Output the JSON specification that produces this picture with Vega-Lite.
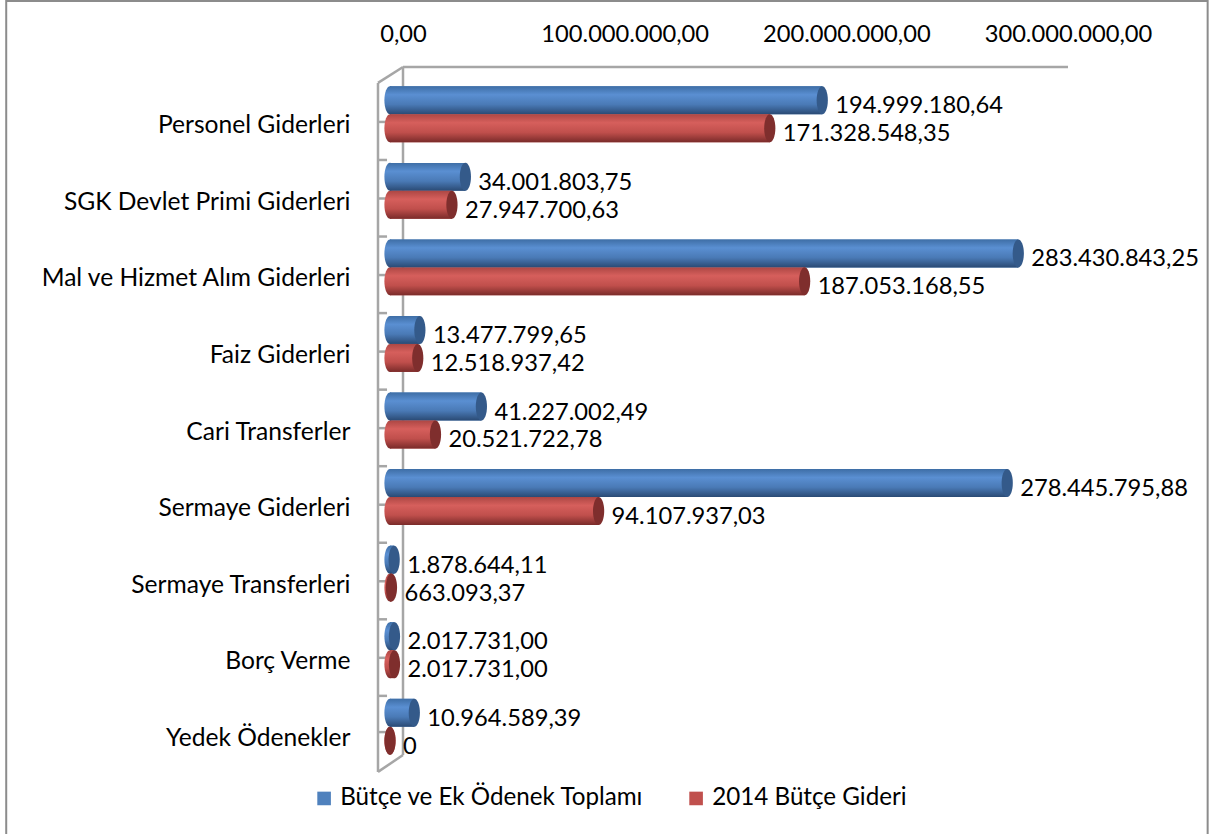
{
"$schema":"https://vega.github.io/schema/vega-lite/v6.json",
"width":665,"height":689,
"autosize":{"type":"none"},
"padding":{"left":403,"top":76,"right":142,"bottom":69},
"background":"white",
"config":{"view":{"stroke":null},"font":"Lato","locale":{"number":{"decimal":",","thousands":".","grouping":[3],"currency":["",""]}}},
"datasets":{
"rows":[
{"cat":"Personel Giderleri","series":"Bütçe ve Ek Ödenek Toplamı","value":194999180.64,"label":"194.999.180,64"},
{"cat":"Personel Giderleri","series":"2014 Bütçe Gideri","value":171328548.35,"label":"171.328.548,35"},
{"cat":"SGK Devlet Primi Giderleri","series":"Bütçe ve Ek Ödenek Toplamı","value":34001803.75,"label":"34.001.803,75"},
{"cat":"SGK Devlet Primi Giderleri","series":"2014 Bütçe Gideri","value":27947700.63,"label":"27.947.700,63"},
{"cat":"Mal ve Hizmet Alım Giderleri","series":"Bütçe ve Ek Ödenek Toplamı","value":283430843.25,"label":"283.430.843,25"},
{"cat":"Mal ve Hizmet Alım Giderleri","series":"2014 Bütçe Gideri","value":187053168.55,"label":"187.053.168,55"},
{"cat":"Faiz Giderleri","series":"Bütçe ve Ek Ödenek Toplamı","value":13477799.65,"label":"13.477.799,65"},
{"cat":"Faiz Giderleri","series":"2014 Bütçe Gideri","value":12518937.42,"label":"12.518.937,42"},
{"cat":"Cari Transferler","series":"Bütçe ve Ek Ödenek Toplamı","value":41227002.49,"label":"41.227.002,49"},
{"cat":"Cari Transferler","series":"2014 Bütçe Gideri","value":20521722.78,"label":"20.521.722,78"},
{"cat":"Sermaye Giderleri","series":"Bütçe ve Ek Ödenek Toplamı","value":278445795.88,"label":"278.445.795,88"},
{"cat":"Sermaye Giderleri","series":"2014 Bütçe Gideri","value":94107937.03,"label":"94.107.937,03"},
{"cat":"Sermaye Transferleri","series":"Bütçe ve Ek Ödenek Toplamı","value":1878644.11,"label":"1.878.644,11"},
{"cat":"Sermaye Transferleri","series":"2014 Bütçe Gideri","value":663093.37,"label":"663.093,37"},
{"cat":"Borç Verme","series":"Bütçe ve Ek Ödenek Toplamı","value":2017731.00,"label":"2.017.731,00"},
{"cat":"Borç Verme","series":"2014 Bütçe Gideri","value":2017731.00,"label":"2.017.731,00"},
{"cat":"Yedek Ödenekler","series":"Bütçe ve Ek Ödenek Toplamı","value":10964589.39,"label":"10.964.589,39"},
{"cat":"Yedek Ödenekler","series":"2014 Bütçe Gideri","value":0,"label":"0"}
],
"frame":[
{"seg":"back","fx":0,"fy":-0.118},{"seg":"back","fx":0,"fy":8.87},
{"seg":"top","fx":0,"fy":-0.118},{"seg":"top","fx":300000000,"fy":-0.118},
{"seg":"front","fx":-11280000,"fy":0.09},{"seg":"front","fx":-11280000,"fy":9.09},
{"seg":"d1","fx":-11280000,"fy":0.09},{"seg":"d1","fx":0,"fy":-0.118},
{"seg":"d2","fx":-11280000,"fy":9.09},{"seg":"d2","fx":0,"fy":8.87},
{"seg":"t1","fx":-11280000,"fy":0.6},{"seg":"t1","fx":-7200000,"fy":0.6},
{"seg":"t2","fx":-11280000,"fy":1.097},{"seg":"t2","fx":-7200000,"fy":1.097},
{"seg":"t3","fx":-11280000,"fy":1.6},{"seg":"t3","fx":-7200000,"fy":1.6},
{"seg":"t4","fx":-11280000,"fy":2.097},{"seg":"t4","fx":-7200000,"fy":2.097},
{"seg":"t5","fx":-11280000,"fy":2.6},{"seg":"t5","fx":-7200000,"fy":2.6},
{"seg":"t6","fx":-11280000,"fy":3.097},{"seg":"t6","fx":-7200000,"fy":3.097},
{"seg":"t7","fx":-11280000,"fy":3.6},{"seg":"t7","fx":-7200000,"fy":3.6},
{"seg":"t8","fx":-11280000,"fy":4.097},{"seg":"t8","fx":-7200000,"fy":4.097},
{"seg":"t9","fx":-11280000,"fy":4.6},{"seg":"t9","fx":-7200000,"fy":4.6},
{"seg":"t10","fx":-11280000,"fy":5.097},{"seg":"t10","fx":-7200000,"fy":5.097},
{"seg":"t11","fx":-11280000,"fy":5.6},{"seg":"t11","fx":-7200000,"fy":5.6},
{"seg":"t12","fx":-11280000,"fy":6.097},{"seg":"t12","fx":-7200000,"fy":6.097},
{"seg":"t13","fx":-11280000,"fy":6.6},{"seg":"t13","fx":-7200000,"fy":6.6},
{"seg":"t14","fx":-11280000,"fy":7.097},{"seg":"t14","fx":-7200000,"fy":7.097},
{"seg":"t15","fx":-11280000,"fy":7.6},{"seg":"t15","fx":-7200000,"fy":7.6},
{"seg":"t16","fx":-11280000,"fy":8.097},{"seg":"t16","fx":-7200000,"fy":8.097},
{"seg":"t17","fx":-11280000,"fy":8.57},{"seg":"t17","fx":-7200000,"fy":8.57}
],
"border":[
{"seg":"b1","fx":-179000000,"fy":9.9},{"seg":"b1","fx":-179000000,"fy":-0.98},
{"seg":"b1","fx":363000000,"fy":-0.98},{"seg":"b1","fx":363000000,"fy":9.9}
]
},
"resolve":{"scale":{"y":"independent"}},
"layer":[
{"data":{"name":"border"},
 "mark":{"type":"line","stroke":"#8c8c8c","strokeWidth":2,"clip":false},
 "encoding":{"x":{"field":"fx","type":"quantitative",
   "scale":{"domain":[0,300000000],"nice":false,"zero":false},
   "axis":{"orient":"top","title":null,"grid":false,"domain":false,"ticks":false,"values":[0,100000000,200000000,300000000],"format":",.2f","labelPadding":30,"labelFontSize":23.7,"labelFont":"Lato","labelColor":"#000000","labelFlush":false,"labelOverlap":false}},
  "y":{"field":"fy","type":"quantitative","axis":null,"scale":{"domain":[0,9],"reverse":true,"nice":false,"zero":false}},
  "detail":{"field":"seg"}}},
{"data":{"name":"frame"},
 "mark":{"type":"line","stroke":"#a6a6a6","strokeWidth":2.5,"clip":false},
 "encoding":{"x":{"field":"fx","type":"quantitative"},
  "y":{"field":"fy","type":"quantitative","axis":null,"scale":{"domain":[0,9],"reverse":true,"nice":false,"zero":false}},
  "detail":{"field":"seg"}}},
{"data":{"name":"rows"},
 "encoding":{
  "y":{"field":"cat","type":"nominal","sort":null,"scale":{"paddingInner":0.27,"paddingOuter":0.135},
   "axis":{"title":null,"domain":false,"ticks":false,"labelPadding":53,"labelFontSize":24.6,"labelFont":"Lato","labelColor":"#000000","labelOffset":12,"labelLimit":400}},
  "yOffset":{"field":"series","type":"nominal","sort":["Bütçe ve Ek Ödenek Toplamı","2014 Bütçe Gideri"]},
  "x":{"field":"value","type":"quantitative","stack":null}
 },
 "layer":[
  {"mark":{"type":"bar","xOffset":-13,"x2Offset":-13,"clip":false},
   "encoding":{"x2":{"datum":0},"color":{"field":"series","type":"nominal","sort":["Bütçe ve Ek Ödenek Toplamı","2014 Bütçe Gideri"],
     "scale":{"domain":["Bütçe ve Ek Ödenek Toplamı","2014 Bütçe Gideri"],"range":["#4f81bd","#c0504d"]},
     "legend":{"title":null,"orient":"none","legendX":-91,"legendY":710,"direction":"horizontal","symbolType":"square","symbolSize":185,"symbolStrokeWidth":0,"labelFontSize":24.2,"labelFont":"Lato","labelColor":"#000000","columnPadding":40,"labelLimit":400,"labelOffset":4}}}},
  {"transform":[{"filter":"datum.series === 'Bütçe ve Ek Ödenek Toplamı'"}],
   "mark":{"type":"bar","xOffset":-13,"x2Offset":-13,"fill":{"gradient":"linear","x1":0,"y1":0,"x2":0,"y2":1,"stops":[{"offset":0,"color":"#3e6ea6"},{"offset":0.3,"color":"#5a8fd2"},{"offset":0.65,"color":"#4a7ab6"},{"offset":1,"color":"#2a4a74"}]}},
   "encoding":{"x2":{"datum":0}}},
  {"transform":[{"filter":"datum.series === '2014 Bütçe Gideri'"}],
   "mark":{"type":"bar","xOffset":-13,"x2Offset":-13,"fill":{"gradient":"linear","x1":0,"y1":0,"x2":0,"y2":1,"stops":[{"offset":0,"color":"#ad4744"},{"offset":0.3,"color":"#d65f5c"},{"offset":0.65,"color":"#c04f4c"},{"offset":1,"color":"#7a2b2a"}]}},
   "encoding":{"x2":{"datum":0}}},
  {"transform":[{"filter":"datum.series === '2014 Bütçe Gideri'"}],
   "mark":{"type":"point","filled":true,"opacity":1,"size":784,"xOffset":-13,"shape":"M0,-1 A0.4,1 0 1,1 0,1 A0.4,1 0 1,1 0,-1 Z","fill":{"gradient":"linear","x1":0,"y1":0,"x2":0,"y2":1,"stops":[{"offset":0,"color":"#ad4744"},{"offset":0.3,"color":"#d65f5c"},{"offset":0.65,"color":"#c04f4c"},{"offset":1,"color":"#7a2b2a"}]}},
   "encoding":{"x":{"datum":0}}},
  {"transform":[{"filter":"datum.series === 'Bütçe ve Ek Ödenek Toplamı'"}],
   "mark":{"type":"point","filled":true,"opacity":1,"size":784,"xOffset":-13,"shape":"M0,-1 A0.4,1 0 1,1 0,1 A0.4,1 0 1,1 0,-1 Z","fill":{"gradient":"linear","x1":0,"y1":0,"x2":0,"y2":1,"stops":[{"offset":0,"color":"#3e6ea6"},{"offset":0.3,"color":"#5a8fd2"},{"offset":0.65,"color":"#4a7ab6"},{"offset":1,"color":"#2a4a74"}]}},
   "encoding":{"x":{"datum":0}}},
  {"transform":[{"filter":"datum.series === '2014 Bütçe Gideri'"}],
   "mark":{"type":"point","filled":true,"opacity":1,"size":784,"xOffset":-13,"shape":"M0,-1 A0.4,1 0 1,1 0,1 A0.4,1 0 1,1 0,-1 Z","fill":"#7f2e2d"}},
  {"transform":[{"filter":"datum.series === 'Bütçe ve Ek Ödenek Toplamı'"}],
   "mark":{"type":"point","filled":true,"opacity":1,"size":784,"xOffset":-13,"shape":"M0,-1 A0.4,1 0 1,1 0,1 A0.4,1 0 1,1 0,-1 Z","fill":"#345a8a"}},
  {"mark":{"type":"text","align":"left","baseline":"middle","dy":6,"fontSize":23.7,"font":"Lato","color":"#000000"},
   "encoding":{"text":{"field":"label","type":"nominal"}}}
 ]}
]
}
